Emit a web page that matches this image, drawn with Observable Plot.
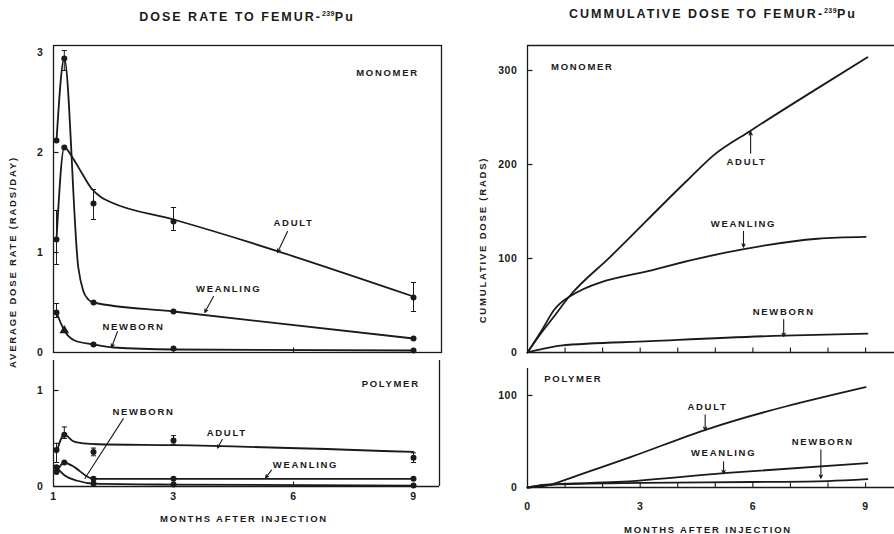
<!DOCTYPE html>
<html>
<head>
<meta charset="utf-8">
<script src="https://cdn.jsdelivr.net/npm/d3@7"></script>
<script src="https://cdn.jsdelivr.net/npm/@observablehq/plot@0.6"></script>
<style>
  html, body { margin: 0; background: #fff; }
  #fig { position: relative; width: 894px; height: 534px; overflow: hidden;
         font-family: 'Liberation Sans', Arial, Helvetica, sans-serif; font-weight: bold; color: #1a1a1a; }
  .title { position: absolute; font-size: 12.5px; letter-spacing: 2px; white-space: nowrap; line-height: 1;
           transform: translate(-50%, -50%); }
  .title sup { font-size: 7px; letter-spacing: 0.4px; vertical-align: 5px; line-height: 0; }
  .axtitle { position: absolute; font-size: 9.5px; letter-spacing: 1.8px; white-space: nowrap; line-height: 1;
             transform: translate(-50%, -50%); }
  .axtitle.vert { transform: translate(-50%, -50%) rotate(-90deg); }
  #fig svg { position: absolute; overflow: visible; }
  #fig svg g[aria-label="text"] text { letter-spacing: 1.7px; }
  #fig svg g[aria-label$="tick label"] text { letter-spacing: 0.6px; }
</style>
</head>
<body>
<div id="fig">
  <div class="title" style="left:247px;top:17px">DOSE RATE TO FEMUR-<sup>239</sup>Pu</div>
  <div class="title" style="left:713px;top:14px">CUMMULATIVE DOSE TO FEMUR-<sup>239</sup>Pu</div>
  <div class="axtitle vert" style="left:13px;top:262px">AVERAGE DOSE RATE (RADS/DAY)</div>
  <div class="axtitle vert" style="left:483px;top:240px">CUMULATIVE DOSE (RADS)</div>
  <div class="axtitle" style="left:244px;top:519px">MONTHS AFTER INJECTION</div>
  <div class="axtitle" style="left:708px;top:530px">MONTHS AFTER INJECTION</div>
</div>
<script>
// ---- Dose rate to femur, monomer (rads/day vs months after injection) ----
const monoAdultCurveM = [0.075, 0.27, 0.49, 0.70, 0.95, 1.2, 1.45, 3, 9];
const monoAdultCurveV = [1.13, 2.05, 1.94, 1.80, 1.64, 1.55, 1.50, 1.33, 0.56];
const monoAdultPtM = [0.075, 0.27, 1, 3, 9];
const monoAdultPtV = [1.13, 2.05, 1.49, 1.31, 0.55];
const monoAdultErrM = [0.075, 1, 3, 9];
const monoAdultErrLo = [0.88, 1.33, 1.22, 0.41];
const monoAdultErrHi = [1.42, 1.63, 1.45, 0.70];

const monoWeanCurveM = [0.075, 0.27, 0.62, 0.74, 0.87, 1, 3, 9];
const monoWeanCurveV = [2.12, 2.94, 0.85, 0.62, 0.53, 0.50, 0.41, 0.14];
const monoWeanPtM = [0.075, 0.27, 1, 3, 9];
const monoWeanPtV = [2.12, 2.94, 0.50, 0.41, 0.14];
const monoWeanErrM = [0.27];
const monoWeanErrLo = [2.82];
const monoWeanErrHi = [3.02];

const monoNewCurveM = [0.075, 0.27, 0.53, 1, 1.5, 3, 9];
const monoNewCurveV = [0.40, 0.22, 0.12, 0.08, 0.05, 0.03, 0.02];
const monoNewPtM = [0.075, 1, 3, 9];
const monoNewPtV = [0.40, 0.08, 0.04, 0.02];
const monoNewTriM = [0.27];
const monoNewTriV = [0.22];
const monoNewErrM = [0.075];
const monoNewErrLo = [0.35];
const monoNewErrHi = [0.49];

// ---- Dose rate to femur, polymer ----
const polyAdultCurveM = [0.075, 0.27, 0.5, 0.76, 1.1, 3, 9];
const polyAdultCurveV = [0.35, 0.54, 0.47, 0.45, 0.44, 0.43, 0.36];
const polyAdultPtM = [0.075, 0.27, 1, 3, 9];
const polyAdultPtV = [0.38, 0.54, 0.36, 0.48, 0.30];
const polyAdultErrM = [0.075, 0.27, 1, 3, 9];
const polyAdultErrLo = [0.25, 0.50, 0.32, 0.44, 0.25];
const polyAdultErrHi = [0.45, 0.62, 0.40, 0.53, 0.35];

const polyWeanCurveM = [0.075, 0.27, 0.45, 1, 3, 9];
const polyWeanCurveV = [0.15, 0.25, 0.22, 0.08, 0.08, 0.08];
const polyWeanPtM = [0.075, 0.27, 1, 3, 9];
const polyWeanPtV = [0.15, 0.25, 0.08, 0.08, 0.08];

const polyNewCurveM = [0.075, 0.3, 0.6, 1, 3, 9];
const polyNewCurveV = [0.20, 0.11, 0.06, 0.03, 0.02, 0.01];
const polyNewPtM = [0.075, 1, 3, 9];
const polyNewPtV = [0.20, 0.03, 0.02, 0.01];

// ---- Cumulative dose to femur (rads) ----
const cumMonoAdultM = [0, 0.35, 0.70, 1.1, 2.21, 4.25, 4.96, 5.94, 7.72, 9.05];
const cumMonoAdultV = [0, 20, 38, 59, 102, 183, 210, 236, 281, 314];
const cumMonoWeanM = [0, 0.43, 0.70, 1.1, 3.45, 5.76, 7.72, 9.0];
const cumMonoWeanV = [0, 27, 45, 59, 89, 110, 121, 123];
const cumMonoNewM = [0, 0.43, 0.88, 3.28, 6.83, 9.05];
const cumMonoNewV = [0, 4, 7.4, 12, 18, 20];

const cumPolyAdultM = [0, 0.5, 1.32, 2.74, 4.74, 9.0];
const cumPolyAdultV = [0, 2, 13, 33, 62.7, 109];
const cumPolyWeanM = [0, 0.5, 2.39, 5.23, 9.05];
const cumPolyWeanV = [0, 3, 6, 15.6, 26.4];
const cumPolyNewM = [0, 0.6, 3, 6, 8, 9.05];
const cumPolyNewV = [0, 3, 5, 6, 7, 9];

// ---- Tick labels ----
const rateTickMonths = [0, 3, 6, 9];
const rateTickLabels = ["1", "3", "6", "9"];
const cumTickMonths = [0, 3, 6, 9];
const cumTickLabels = ["0", "3", "6", "9"];
const monthMarks = [1, 2, 3, 4, 5, 6, 7, 8, 9];

const ink = "#1a1a1a";
const fontFamily = "'Liberation Sans', Arial, Helvetica, sans-serif";

// horizontal bar used as an error-bar cap
const capSymbol = {
  draw(ctx, size) {
    const r = Math.sqrt(size / Math.PI);
    ctx.moveTo(-r, 0);
    ctx.lineTo(r, 0);
  }
};
// short tick pointing into the plot from the left axis
const tickRight = {
  draw(ctx, size) {
    const r = Math.sqrt(size / Math.PI);
    ctx.moveTo(0, 0);
    ctx.lineTo(r, 0);
  }
};
// short tick pointing up from the bottom axis
const tickUp = {
  draw(ctx, size) {
    const r = Math.sqrt(size / Math.PI);
    ctx.moveTo(0, 0);
    ctx.lineTo(0, -r);
  }
};

const rows = (m, v) => m.map((d, i) => ({m: d, v: v[i]}));
const errRows = (m, lo, hi) => m.map((d, i) => ({m: d, lo: lo[i], hi: hi[i]}));
const innerYTicks = (ticks) => Plot.dot(ticks, {y: d => d, frameAnchor: "left", symbol: tickRight, r: 5, stroke: ink, strokeWidth: 1.2, fill: "none"});
const innerXTicks = (ticks) => Plot.dot(ticks, {x: d => d, frameAnchor: "bottom", symbol: tickUp, r: 5, stroke: ink, strokeWidth: 1.1, fill: "none"});

function drawPanel(spec) {
  const marks = [];
  for (const f of spec.frame) marks.push(f);
  for (const c of spec.curves) {
    marks.push(Plot.line(rows(c[0], c[1]), {x: "m", y: "v", curve: "monotone-x", stroke: ink, strokeWidth: 1.8}));
  }
  for (const e of spec.errors || []) {
    const data = errRows(e[0], e[1], e[2]);
    marks.push(Plot.ruleX(data, {x: "m", y1: "lo", y2: "hi", stroke: ink, strokeWidth: 1}));
    marks.push(Plot.dot(data, {x: "m", y: "lo", symbol: capSymbol, r: 2.6, stroke: ink, strokeWidth: 1, fill: "none"}));
    marks.push(Plot.dot(data, {x: "m", y: "hi", symbol: capSymbol, r: 2.6, stroke: ink, strokeWidth: 1, fill: "none"}));
  }
  for (const p of spec.points || []) {
    marks.push(Plot.dot(rows(p[0], p[1]), {x: "m", y: "v", r: p[3] || 3, symbol: p[2] || "circle", fill: ink}));
  }
  marks.push(Plot.text(spec.notes, {x: "m", y: "v", text: "text", fontSize: 9.5, fontWeight: "bold", fill: ink}));
  if (spec.arrows.length) {
    marks.push(Plot.arrow(spec.arrows, {x1: "m1", y1: "v1", x2: "m2", y2: "v2", stroke: ink, strokeWidth: 1.1, headLength: 5, headAngle: 50}));
  }
  if (spec.links) {
    marks.push(Plot.link(spec.links, {x1: "m1", y1: "v1", x2: "m2", y2: "v2", stroke: ink, strokeWidth: 1.1}));
  }
  for (const a of spec.axes) marks.push(a);

  const xScale = {domain: [0, spec.xMax], label: null};
  if (spec.noXLabels) xScale.axis = null;
  const svg = Plot.plot({
    width: spec.width, height: spec.height,
    marginLeft: spec.margin[3], marginRight: spec.margin[1], marginTop: spec.margin[0], marginBottom: spec.margin[2],
    x: xScale,
    y: {domain: [0, spec.yMax], label: null},
    style: {fontFamily, fontSize: "10px", fontWeight: "bold", color: ink, background: "transparent", overflow: "visible"},
    marks
  });
  svg.style.left = spec.left + "px";
  svg.style.top = spec.top + "px";
  document.getElementById("fig").append(svg);
}

const frameLine = {stroke: ink, strokeWidth: 1.3};
const yLabelStyle = {tickSize: 0, tickPadding: 10, fontSize: 10.5, fontWeight: "bold", tickFormat: d => `${d}`};

// Dose rate, monomer
drawPanel({
  left: 0, top: 0, width: 450, height: 356, margin: [45, 9, 4, 53],
  xMax: 9.7, yMax: 3.07, noXLabels: true,
  frame: [Plot.frame(frameLine)],
  curves: [[monoAdultCurveM, monoAdultCurveV], [monoWeanCurveM, monoWeanCurveV], [monoNewCurveM, monoNewCurveV]],
  errors: [[monoAdultErrM, monoAdultErrLo, monoAdultErrHi], [monoWeanErrM, monoWeanErrLo, monoWeanErrHi], [monoNewErrM, monoNewErrLo, monoNewErrHi]],
  points: [[monoAdultPtM, monoAdultPtV], [monoWeanPtM, monoWeanPtV], [monoNewPtM, monoNewPtV], [monoNewTriM, monoNewTriV, "triangle", 3.6]],
  notes: [
    {text: "MONOMER", m: 8.35, v: 2.80},
    {text: "ADULT", m: 6.0, v: 1.30},
    {text: "WEANLING", m: 4.38, v: 0.64},
    {text: "NEWBORN", m: 2.0, v: 0.26}
  ],
  arrows: [
    {m1: 5.85, v1: 1.21, m2: 5.6, v2: 1.00},
    {m1: 4.0, v1: 0.56, m2: 3.78, v2: 0.40},
    {m1: 1.6, v1: 0.21, m2: 1.45, v2: 0.05}
  ],
  axes: [
    Plot.axisY([0, 1, 2, 3], yLabelStyle),
    innerYTicks([1, 2]),
    innerXTicks([3, 6])
  ]
});

// Dose rate, polymer
drawPanel({
  left: 0, top: 356, width: 450, height: 178, margin: [4, 11, 48, 53],
  xMax: 9.65, yMax: 1.3125,
  frame: [Plot.ruleX([0], frameLine), Plot.ruleX([9.65], frameLine), Plot.ruleY([0], frameLine)],
  curves: [[polyAdultCurveM, polyAdultCurveV], [polyWeanCurveM, polyWeanCurveV], [polyNewCurveM, polyNewCurveV]],
  errors: [[polyAdultErrM, polyAdultErrLo, polyAdultErrHi]],
  points: [[polyAdultPtM, polyAdultPtV], [polyWeanPtM, polyWeanPtV], [polyNewPtM, polyNewPtV]],
  notes: [
    {text: "POLYMER", m: 8.43, v: 1.07},
    {text: "NEWBORN", m: 2.25, v: 0.78},
    {text: "ADULT", m: 4.33, v: 0.56},
    {text: "WEANLING", m: 6.3, v: 0.22}
  ],
  arrows: [
    {m1: 4.22, v1: 0.49, m2: 4.1, v2: 0.40},
    {m1: 5.45, v1: 0.17, m2: 5.3, v2: 0.09}
  ],
  links: [{m1: 1.75, v1: 0.71, m2: 0.78, v2: 0.08}],
  axes: [
    Plot.axisY([0, 1], yLabelStyle),
    innerYTicks([1]),
    innerXTicks([3, 6]),
    Plot.axisX(rateTickMonths, {tickSize: 0, tickPadding: 6, fontSize: 10.5, fontWeight: "bold",
      tickFormat: d => rateTickLabels[rateTickMonths.indexOf(d)]})
  ]
});

// Cumulative dose, monomer
drawPanel({
  left: 450, top: 0, width: 444, height: 356, margin: [45, 0, 4, 77],
  xMax: 9.77, yMax: 326.6, noXLabels: true,
  frame: [Plot.ruleX([0], frameLine), Plot.ruleY([0], frameLine), Plot.ruleY([326.6], frameLine)],
  curves: [[cumMonoAdultM, cumMonoAdultV], [cumMonoWeanM, cumMonoWeanV], [cumMonoNewM, cumMonoNewV]],
  notes: [
    {text: "MONOMER", m: 1.46, v: 304},
    {text: "ADULT", m: 5.83, v: 203},
    {text: "WEANLING", m: 5.75, v: 137},
    {text: "NEWBORN", m: 6.82, v: 43}
  ],
  arrows: [
    {m1: 5.94, v1: 212, m2: 5.94, v2: 235},
    {m1: 5.75, v1: 129, m2: 5.75, v2: 112},
    {m1: 6.82, v1: 35, m2: 6.82, v2: 17}
  ],
  axes: [
    Plot.axisY([0, 100, 200, 300], yLabelStyle),
    innerYTicks([100, 200, 300]),
    innerXTicks(monthMarks)
  ]
});

// Cumulative dose, polymer
drawPanel({
  left: 450, top: 356, width: 444, height: 178, margin: [12, 0, 47, 77],
  xMax: 9.77, yMax: 129.3,
  frame: [Plot.ruleX([0], frameLine), Plot.ruleY([0], frameLine)],
  curves: [[cumPolyAdultM, cumPolyAdultV], [cumPolyWeanM, cumPolyWeanV], [cumPolyNewM, cumPolyNewV]],
  notes: [
    {text: "POLYMER", m: 1.22, v: 118},
    {text: "ADULT", m: 4.79, v: 88},
    {text: "WEANLING", m: 5.22, v: 37},
    {text: "NEWBORN", m: 7.86, v: 49}
  ],
  arrows: [
    {m1: 4.73, v1: 79, m2: 4.73, v2: 62},
    {m1: 5.22, v1: 28, m2: 5.22, v2: 15},
    {m1: 7.81, v1: 41, m2: 7.81, v2: 10}
  ],
  axes: [
    Plot.axisY([0, 100], yLabelStyle),
    innerYTicks([100]),
    innerXTicks(monthMarks),
    Plot.axisX(cumTickMonths, {tickSize: 0, tickPadding: 15, fontSize: 10.5, fontWeight: "bold",
      tickFormat: d => cumTickLabels[cumTickMonths.indexOf(d)]})
  ]
});
</script>
</body>
</html>
